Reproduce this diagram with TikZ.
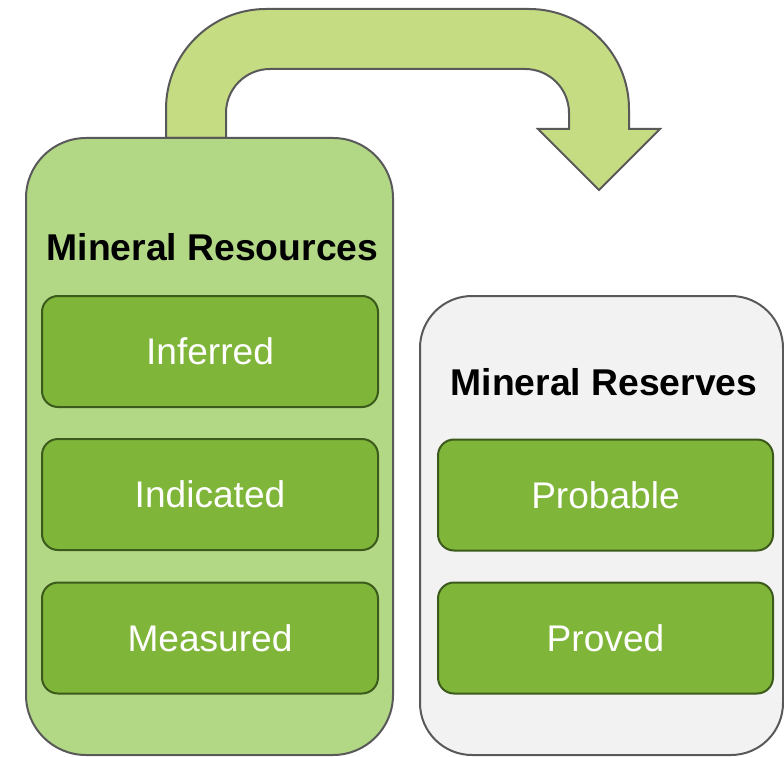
\documentclass[tikz,border=0pt]{standalone}
\usepackage{fontspec}
\setmainfont{Liberation Sans}
\definecolor{outerline}{HTML}{595959}
\definecolor{resfill}{HTML}{B2D886}
\definecolor{rsvfill}{HTML}{F2F2F2}
\definecolor{innerfill}{HTML}{7FB539}
\definecolor{innerline}{HTML}{3B5A1C}
\definecolor{arrowfill}{HTML}{C5DC82}
\tikzset{
  bigbox/.style={draw=outerline, line width=2pt, inner sep=0pt, outer sep=0pt},
  itembox/.style={draw=innerline, fill=innerfill, line width=2pt, rounded corners=16pt,
    minimum height=111pt, inner sep=0pt, outer sep=0pt, text=white,
    font=\fontsize{37.1}{40}\selectfont, text height=26.5pt, text depth=0pt},
  titletext/.style={inner sep=0pt, font=\bfseries\fontsize{37.3}{40}\selectfont,
    text height=26.7pt, text depth=0pt},
}
\begin{document}
\begin{tikzpicture}[x=1pt,y=-1pt]
\useasboundingbox (0,0) rectangle (784,757);
% curved arrow
\draw[draw=outerline, fill=arrowfill, line width=2pt, line join=miter]
  (166,138) -- (166,109) .. controls (166,53.8) and (210.8,9) .. (266,9)
  -- (529,9) .. controls (584.2,9) and (629,53.8) .. (629,109)
  -- (629,129) -- (660,129) -- (599,190) -- (538,129) -- (569,129) -- (569,113)
  .. controls (569,88.7) and (549.3,69) .. (525,69)
  -- (270,69) .. controls (245.7,69) and (226,88.7) .. (226,113)
  -- (226,138) -- cycle;
% left big box
\node[bigbox, fill=resfill, rounded corners=60pt, minimum width=367pt, minimum height=617pt]
  (resources) at (209.5,446.5) {};
% right big box
\node[bigbox, fill=rsvfill, rounded corners=52pt, minimum width=363pt, minimum height=459pt]
  (reserves) at (601.5,525.5) {};
% titles
\node[titletext] (restitle) at (212.5,247) {Mineral Resources};
\node[titletext] (rsvtitle) at (604,382) {Mineral Reserves};
% items
\node[itembox, minimum width=336pt] (inferred) at (210,351.5) {Inferred};
\node[itembox, minimum width=336pt] (indicated) at (210,494.5) {Indicated};
\node[itembox, minimum width=336pt] (measured) at (210,638) {Measured};
\node[itembox, minimum width=335pt] (probable) at (605.5,495) {Probable};
\node[itembox, minimum width=335pt] (proved) at (605.5,638) {Proved};
\end{tikzpicture}
\end{document}
